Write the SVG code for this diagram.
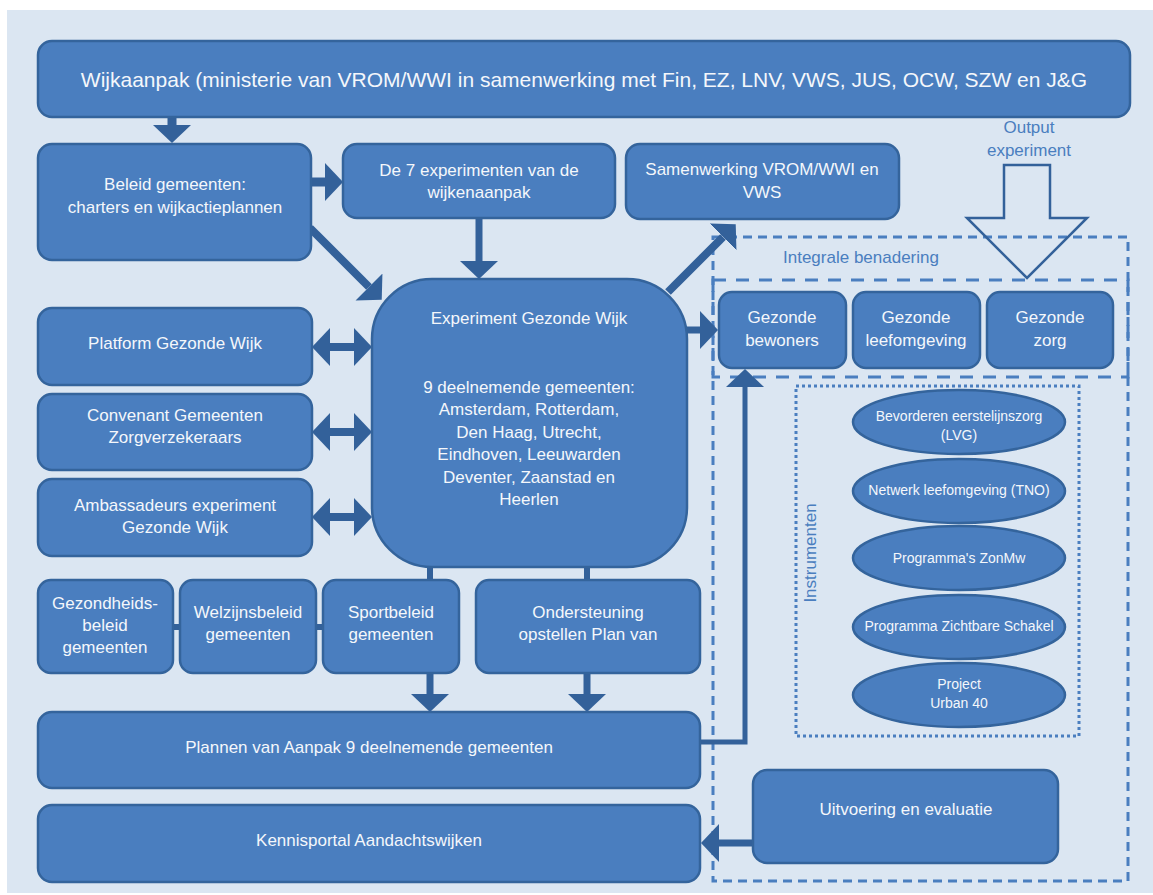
<svg xmlns="http://www.w3.org/2000/svg" width="1153" height="895" viewBox="0 0 1153 895">
<style>
.bg{fill:#dbe6f2}
.box{fill:#4a7ebf;stroke:#34649c;stroke-width:2.5}
.ell{fill:#4a7ebf;stroke:#34649c;stroke-width:2.5}
.t{font-family:"Liberation Sans",Arial,sans-serif;font-size:17px;fill:#f4f7fb;text-anchor:middle}
.s{font-size:14px}
.big{font-size:21px}
.lbl{font-family:"Liberation Sans",Arial,sans-serif;font-size:17px;fill:#4a7ebf;text-anchor:middle}
.sh{stroke:#33619a;fill:none;stroke-linejoin:miter}
.dash1{fill:none;stroke:#4a7ebf;stroke-width:3;stroke-dasharray:9 6}
.dash2{fill:none;stroke:#4a7ebf;stroke-width:3;stroke-dasharray:13 10}
.dot{fill:none;stroke:#4a7ebf;stroke-width:3;stroke-dasharray:3 3}
.hollow{fill:none;stroke:#33619a;stroke-width:2.5}
</style>
<defs>
<marker id="ah" markerUnits="userSpaceOnUse" markerWidth="19" markerHeight="40" refX="0" refY="19" orient="auto-start-reverse">
<path d="M0,0 L18,19 L0,38 Z" fill="#33619a"/>
</marker>
</defs>
<rect class="bg" x="7" y="10" width="1146" height="883"/>

<g id="frames">
<rect class="dash1" x="713" y="237" width="415" height="644"/>
<rect class="dash2" x="713" y="280" width="415" height="97"/>
<rect class="dot" x="796" y="386" width="283" height="350"/>
<text class="lbl" x="861" y="263">Integrale benadering</text>
<text class="lbl" transform="translate(816,553) rotate(-90)">Instrumenten</text>
<text class="lbl" x="1029" y="133">Output</text>
<text class="lbl" x="1029" y="156">experiment</text>
<polygon class="hollow" points="1004,165 1050,165 1050,218 1087,218 1027,278 967,218 1004,218"/>
</g>

<g id="connectors">
<line class="sh" stroke-width="9" x1="172" y1="117" x2="172" y2="125" marker-end="url(#ah)"/>
<line class="sh" stroke-width="9" x1="311" y1="182" x2="325" y2="182" marker-end="url(#ah)"/>
<line class="sh" stroke-width="8" x1="310" y1="228" x2="369" y2="287" marker-end="url(#ah)"/>
<line class="sh" stroke-width="7" x1="479" y1="218" x2="479" y2="261" marker-end="url(#ah)"/>
<line class="sh" stroke-width="8" x1="668" y1="292" x2="723" y2="237" marker-end="url(#ah)"/>
<line class="sh" stroke-width="7" x1="687" y1="330" x2="700" y2="330" marker-end="url(#ah)"/>
<line class="sh" stroke-width="8" x1="330" y1="347" x2="354" y2="347" marker-start="url(#ah)" marker-end="url(#ah)"/>
<line class="sh" stroke-width="8" x1="330" y1="432" x2="354" y2="432" marker-start="url(#ah)" marker-end="url(#ah)"/>
<line class="sh" stroke-width="8" x1="330" y1="517" x2="354" y2="517" marker-start="url(#ah)" marker-end="url(#ah)"/>
<line class="sh" stroke-width="6" x1="430" y1="566" x2="430" y2="581"/>
<line class="sh" stroke-width="6" x1="587" y1="566" x2="587" y2="581"/>
<line class="sh" stroke-width="6" x1="172" y1="627" x2="181" y2="627"/>
<line class="sh" stroke-width="6" x1="315" y1="627" x2="324" y2="627"/>
<line class="sh" stroke-width="7" x1="430" y1="673" x2="430" y2="694" marker-end="url(#ah)"/>
<line class="sh" stroke-width="7" x1="587" y1="673" x2="587" y2="694" marker-end="url(#ah)"/>
<polyline class="sh" stroke-width="5" points="699,742 745,742 745,387" marker-end="url(#ah)"/>
<line class="sh" stroke-width="7" x1="753" y1="843" x2="719" y2="843" marker-end="url(#ah)"/>
</g>

<g id="n-wijkaanpak"><rect class="box" x="38" y="41" width="1092" height="76" rx="14"/>
<text class="t big" x="584" y="87">Wijkaanpak (ministerie van VROM/WWI in samenwerking met Fin, EZ, LNV, VWS, JUS, OCW, SZW en J&amp;G</text></g>

<g id="n-beleid"><rect class="box" x="38" y="144" width="273" height="116" rx="14"/>
<text class="t" x="175" y="190">Beleid gemeenten:</text><text class="t" x="175" y="213">charters en wijkactieplannen</text></g>

<g id="n-de7"><rect class="box" x="343" y="144" width="272" height="74" rx="14"/>
<text class="t" x="479" y="176">De 7 experimenten van de</text><text class="t" x="479" y="198">wijkenaanpak</text></g>

<g id="n-samenwerking"><rect class="box" x="626" y="144" width="273" height="75" rx="14"/>
<text class="t" x="762" y="175">Samenwerking VROM/WWI en</text><text class="t" x="762" y="198">VWS</text></g>

<g id="n-experiment"><rect class="box" x="372" y="279" width="315" height="288" rx="60"/>
<text class="t" x="529" y="324">Experiment Gezonde Wijk</text>
<text class="t" x="529" y="393">9 deelnemende gemeenten:</text>
<text class="t" x="529" y="415">Amsterdam, Rotterdam,</text>
<text class="t" x="529" y="438">Den Haag, Utrecht,</text>
<text class="t" x="529" y="460">Eindhoven, Leeuwarden</text>
<text class="t" x="529" y="483">Deventer, Zaanstad en</text>
<text class="t" x="529" y="505">Heerlen</text></g>

<g id="n-platform"><rect class="box" x="38" y="308" width="274" height="77" rx="14"/>
<text class="t" x="175" y="349">Platform Gezonde Wijk</text></g>

<g id="n-convenant"><rect class="box" x="38" y="394" width="274" height="76" rx="14"/>
<text class="t" x="175" y="421">Convenant Gemeenten</text><text class="t" x="175" y="443">Zorgverzekeraars</text></g>

<g id="n-ambassadeurs"><rect class="box" x="38" y="479" width="274" height="77" rx="14"/>
<text class="t" x="175" y="511">Ambassadeurs experiment</text><text class="t" x="175" y="533">Gezonde Wijk</text></g>

<g id="n-bewoners"><rect class="box" x="719" y="292" width="127" height="76" rx="13"/>
<text class="t" x="782" y="323">Gezonde</text><text class="t" x="782" y="346">bewoners</text></g>

<g id="n-leefomgeving"><rect class="box" x="853" y="292" width="127" height="76" rx="13"/>
<text class="t" x="916" y="323">Gezonde</text><text class="t" x="916" y="346">leefomgeving</text></g>

<g id="n-zorg"><rect class="box" x="987" y="292" width="126" height="76" rx="13"/>
<text class="t" x="1050" y="323">Gezonde</text><text class="t" x="1050" y="346">zorg</text></g>

<g id="n-lvg"><ellipse class="ell" cx="959" cy="422" rx="106" ry="32"/>
<text class="t s" x="959" y="421">Bevorderen eerstelijnszorg</text><text class="t s" x="959" y="440">(LVG)</text></g>

<g id="n-tno"><ellipse class="ell" cx="959" cy="491" rx="106" ry="32"/>
<text class="t s" x="959" y="495">Netwerk leefomgeving (TNO)</text></g>

<g id="n-zonmw"><ellipse class="ell" cx="959" cy="558" rx="106" ry="32"/>
<text class="t s" x="959" y="563">Programma's ZonMw</text></g>

<g id="n-schakel"><ellipse class="ell" cx="959" cy="627" rx="106" ry="32"/>
<text class="t s" x="959" y="631">Programma Zichtbare Schakel</text></g>

<g id="n-urban"><ellipse class="ell" cx="959" cy="695" rx="106" ry="32"/>
<text class="t s" x="959" y="689">Project</text><text class="t s" x="959" y="708">Urban 40</text></g>

<g id="n-gezondheid"><rect class="box" x="38" y="580" width="135" height="93" rx="13"/>
<text class="t" x="105" y="609">Gezondheids-</text><text class="t" x="105" y="631">beleid</text><text class="t" x="105" y="653">gemeenten</text></g>

<g id="n-welzijn"><rect class="box" x="180" y="580" width="136" height="93" rx="13"/>
<text class="t" x="248" y="618">Welzijnsbeleid</text><text class="t" x="248" y="640">gemeenten</text></g>

<g id="n-sport"><rect class="box" x="323" y="580" width="136" height="93" rx="13"/>
<text class="t" x="391" y="618">Sportbeleid</text><text class="t" x="391" y="640">gemeenten</text></g>

<g id="n-ondersteuning"><rect class="box" x="476" y="580" width="224" height="93" rx="13"/>
<text class="t" x="588" y="618">Ondersteuning</text><text class="t" x="588" y="640">opstellen Plan van</text></g>

<g id="n-plannen"><rect class="box" x="38" y="712" width="662" height="76" rx="14"/>
<text class="t" x="369" y="753">Plannen van Aanpak 9 deelnemende gemeenten</text></g>

<g id="n-kennisportal"><rect class="box" x="38" y="805" width="662" height="77" rx="14"/>
<text class="t" x="369" y="846">Kennisportal Aandachtswijken</text></g>

<g id="n-uitvoering"><rect class="box" x="753" y="770" width="305" height="93" rx="14"/>
<text class="t" x="906" y="815">Uitvoering en evaluatie</text></g>
</svg>
